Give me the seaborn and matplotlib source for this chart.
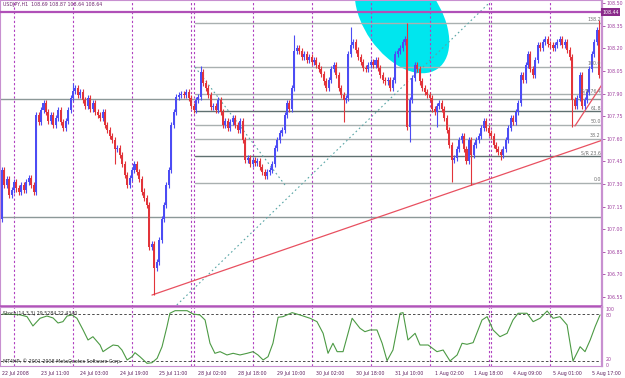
import numpy as np
import pandas as pd
import matplotlib
matplotlib.use("Agg")
import matplotlib.pyplot as plt
from matplotlib.patches import Ellipse
from matplotlib.transforms import IdentityTransform
import seaborn as sns

sns.set_style("white")
plt.rcParams['font.family'] = ['DejaVu Sans']

# ---------------- data ----------------
first_open = 107.07
closes = [
    107.39, 107.29, 107.33, 107.23, 107.26, 107.31, 107.27, 107.25, 107.29, 107.26,
    107.31, 107.34, 107.29, 107.25, 107.76, 107.71, 107.79, 107.84, 107.78, 107.72,
    107.76, 107.69, 107.74, 107.79, 107.71, 107.67, 107.72, 107.79, 107.87, 107.92,
    107.94, 107.89, 107.91, 107.86, 107.82, 107.87, 107.80, 107.84, 107.78, 107.76,
    107.74, 107.78, 107.69, 107.66, 107.62, 107.59, 107.53, 107.54, 107.49, 107.43,
    107.36, 107.29, 107.34, 107.39, 107.43, 107.38, 107.33, 107.25, 107.21, 107.16,
    106.88, 106.90, 106.74, 106.78, 106.93, 107.07, 107.16, 107.29, 107.39, 107.69,
    107.78, 107.88, 107.89, 107.90, 107.89, 107.91, 107.87, 107.82, 107.79, 107.86,
    107.88, 108.04, 107.97, 107.94, 107.89, 107.81, 107.82, 107.79, 107.86, 107.78,
    107.69, 107.72, 107.67, 107.71, 107.74, 107.69, 107.66, 107.72, 107.59, 107.46,
    107.47, 107.43, 107.46, 107.44, 107.45, 107.41, 107.38, 107.35, 107.38, 107.39,
    107.43, 107.54, 107.59, 107.64, 107.66, 107.76, 107.84, 107.80, 107.94, 108.18,
    108.20, 108.18, 108.14, 108.16, 108.12, 108.14, 108.11, 108.12, 108.09, 108.06,
    108.03, 107.98, 107.94, 107.99, 108.06, 108.09, 108.02, 107.94, 107.89, 107.86,
    107.87, 108.16, 108.22, 108.24, 108.19, 108.14, 108.11, 108.07, 108.06, 108.09,
    108.11, 108.09, 108.12, 108.07, 108.02, 107.99, 107.98, 107.99, 107.94, 107.99,
    108.16, 108.18, 108.20, 108.24, 108.26, 107.68, 107.86, 108.00, 108.09, 108.06,
    107.98, 107.94, 107.91, 107.89, 107.87, 107.80, 107.78, 107.82, 107.84, 107.80,
    107.74, 107.66, 107.56, 107.46, 107.47, 107.53, 107.59, 107.62, 107.53, 107.45,
    107.59, 107.49, 107.56, 107.59, 107.62, 107.67, 107.72, 107.67, 107.64, 107.62,
    107.56, 107.53, 107.51, 107.49, 107.53, 107.59, 107.67, 107.74, 107.71, 107.78,
    107.84, 108.02, 107.99, 108.09, 108.16, 108.06, 108.02, 108.12, 108.22, 108.20,
    108.24, 108.26, 108.23, 108.22, 108.20, 108.22, 108.24, 108.26, 108.22, 108.24,
    108.19, 108.14, 107.86, 107.82, 107.87, 108.02, 107.82, 107.86, 107.91, 108.06,
    108.16, 108.24, 108.32, 108.02,
]
wick = 0.02
spike_high = {81: 108.08, 119: 108.29, 142: 108.34, 165: 108.37, 243: 108.39, 29: 107.97}
spike_low = {0: 107.07, 62: 106.56, 60: 106.86, 139: 107.71, 166: 107.58, 177: 107.68,
             183: 107.31, 191: 107.29, 203: 107.46, 232: 107.68, 46: 107.43}

stoch_bar = [0.5, 7.4, 10.3, 12.7, 15.6, 18.4, 20.9, 22.9, 24.9, 26.6, 28.6, 30.6, 33.1,
             35.1, 37.1, 40.0, 41.2, 43.2, 45.3, 47.3, 48.9, 51.0, 53.0, 54.2, 56.2, 59.1,
             61.1, 63.2, 65.2, 67.2, 68.4, 70.5, 75.4, 77.8, 80.6, 82.7, 84.7, 86.7, 88.8,
             91.6, 94.1, 96.9, 99.8, 102.2, 104.2, 106.3, 108.3, 110.3, 112.4, 114.4, 118.1,
             121.3, 125.4, 128.2, 130.7, 132.7, 134.7, 136.4, 138.8, 142.5, 145.7, 147.7,
             149.8, 152.6, 154.7, 156.7, 159.1, 162.0, 163.2, 165.2, 168.1, 170.1, 173.4,
             177.0, 179.5, 182.3, 185.2, 187.2, 189.2, 191.7, 195.3, 197.4, 199.8, 202.6,
             205.5, 207.9, 210.0, 213.6, 216.1, 218.9, 221.8, 224.2, 227.0, 229.9, 232.3,
             235.2, 237.2, 239.3, 241.3, 243.3]
stoch_val = [80, 79, 76.6, 64.7, 74.5, 77.4, 74.9, 68.5, 70.2, 77.4, 78.7, 74.5, 59.6,
             46.8, 51, 40.4, 31.9, 36.2, 40.4, 39.5, 34, 21.3, 25.5, 30.6, 25.5, 17,
             17.8, 23.4, 38.2, 63.8, 80.9, 84.2, 84.2, 80, 78.7, 72.3, 42.6, 29.8, 31.9,
             27.7, 29.8, 27.7, 29.8, 31.9, 27.7, 21.3, 25.5, 42.6, 75.8, 76.6, 81.7,
             78.7, 74.5, 70.2, 55.3, 29.8, 42.6, 31.9, 31.9, 74.5, 61.7, 57.4,
             59.6, 59.6, 42.6, 20.4, 34, 80.9, 81.7, 46.8, 55.3, 40.4, 40.4,
             31.9, 34, 20, 27.7, 42.6, 41.3, 43.4, 72.3, 76.6, 59.6, 51,
             55.3, 72.3, 80.9, 80.9, 70.2, 74.5, 83.8, 74.5, 76.6, 66, 20,
             38.2, 31.9, 46.8, 63.8, 78.7]

tick_labels = ["22 Jul 2008", "23 Jul 11:00", "24 Jul 03:00", "24 Jul 19:00", "25 Jul 11:00",
               "28 Jul 02:00", "28 Jul 18:00", "29 Jul 10:00", "30 Jul 02:00", "30 Jul 18:00",
               "31 Jul 10:00", "1 Aug 02:00", "1 Aug 18:00", "4 Aug 09:00", "5 Aug 01:00",
               "5 Aug 17:00"]
tick_bars = [0, 16, 32, 48, 64, 80, 96, 112, 128, 144, 160, 176, 192, 208, 224, 240]
day_sep_bars = [5, 29, 53, 77, 78, 102, 126, 150, 174, 198, 199, 223]
price_ticks = [108.50, 108.35, 108.20, 108.05, 107.90, 107.75, 107.60, 107.45, 107.30,
               107.15, 107.00, 106.85, 106.70, 106.55]

fib_low, fib_high = 107.306, 108.076
fib_start_bar = 78.6
fib_levels = [138.2, 100.0, 76.4, 61.8, 50.0, 38.2, 23.6, 0.0]
fib_names = ["138.2", "100.0", "S/R 76.4", "61.8", "50.0", "38.2", "S/R 23.6", "0.0"]
fib_dark = [61.8, 23.6]
hlines_full = [107.862, 107.078]
bid_price = 108.44
red_trend1 = ([61.1, 244.1], [106.563, 107.59])
red_trend2 = ([233.1, 244.0], [107.685, 107.957])
teal_trend1 = ([71.2, 198.6], [106.497, 108.507])
teal_trend2 = ([78.6, 115.2], [108.076, 107.293])

# ---------------- figure ----------------
W, H = 625, 378
fig = plt.figure(figsize=(W / 100, H / 100), dpi=100)
PURPLE = '#a040a0'
LPURPLE = '#c890d0'
SEP = '#b040c0'
FS = 3.4

ax = fig.add_axes([0, (H - 307) / H, 602 / W, 307 / H])
ax2 = fig.add_axes([0, (H - 366) / H, 602 / W, 59 / H], sharex=ax)

xlo, xhi = -0.69, 244.1
ax.set_xlim(xlo, xhi)
ax.set_ylim(106.4836, 108.5208)
ax2.set_ylim(13.6, 88.9)

n = len(closes)
idx = np.arange(n)
opens = [first_open] + closes[:-1]
df = pd.DataFrame({"bar": idx, "open": opens, "close": closes})
df["high"] = df[["open", "close"]].max(axis=1) + wick
df["low"] = df[["open", "close"]].min(axis=1) - wick
for k, v in spike_high.items():
    df.loc[k, "high"] = max(df.loc[k, "high"], v)
for k, v in spike_low.items():
    df.loc[k, "low"] = min(df.loc[k, "low"], v)
up = df["close"] >= df["open"]
colors = np.where(up, '#4c4cf4', '#e2343a')

# ellipse (drawn object, in screen pixels)
ell = Ellipse((402, H - 18), 124, 76, angle=-55, facecolor='#00e6ee', edgecolor='none',
              transform=IdentityTransform(), zorder=0.5)
ax.add_patch(ell)

# separators
for b in day_sep_bars:
    for a in (ax, ax2):
        a.axvline(b, color=SEP, lw=0.8, ls=(0, (2, 2)), zorder=1)

# horizontal lines
for p in hlines_full:
    ax.axhline(p, color='#8c9898', lw=1.0, zorder=1)
for lev, name in zip(fib_levels, fib_names):
    p = fib_low + lev / 100 * (fib_high - fib_low)
    c = '#5f7070' if lev in fib_dark else '#a9b0b0'
    ax.plot([fib_start_bar, xhi], [p, p], color=c, lw=1.0, zorder=1)
    ax.text(243.6, p + 0.004, name, fontsize=FS, color='#707070', ha='right', va='bottom', zorder=6)

# trend lines
ax.plot(*teal_trend1, color='#5aa6a6', lw=0.8, ls=(0, (1.5, 2.5)), zorder=2)
ax.plot(*teal_trend2, color='#5aa6a6', lw=0.8, ls=(0, (1.5, 2.5)), zorder=2)
ax.plot(*red_trend1, color='#e85060', lw=0.9, zorder=2)
ax.plot(*red_trend2, color='#e85060', lw=0.9, zorder=2)

# candles
ax.vlines(df["bar"], df["low"], df["high"], colors=colors, lw=0.8, zorder=3)
body_h = (df["close"] - df["open"]).abs().clip(lower=0.004)
body_b = df[["open", "close"]].min(axis=1)
ax.bar(df["bar"], body_h, bottom=body_b, width=0.82, color=colors, linewidth=0, zorder=3)

# bid / border lines
ax.axhline(bid_price, color='#b050b8', lw=1.6, zorder=4)
ax.axhline(106.49, color='#b050b8', lw=1.8, zorder=4)

# price axis
ax.yaxis.tick_right()
ax.set_yticks(price_ticks)
ax.set_yticklabels([f"{v:.2f}" for v in price_ticks])
ax.tick_params(axis='y', length=2, width=0.6, color=PURPLE, labelsize=FS, labelcolor=PURPLE, pad=1.5)
ax.tick_params(axis='x', bottom=False, labelbottom=False)
ax.text(1.0, bid_price, f"{bid_price:.2f}", transform=ax.get_yaxis_transform(),
        fontsize=FS, color='white', ha='left', va='center', zorder=7, clip_on=False,
        bbox=dict(boxstyle='square,pad=0.25', fc='#8a2a8a', ec='none'))
ax.text(0.005, 0.992, "USDJPY,H1  108.69 108.87 108.64 108.64", transform=ax.transAxes,
        fontsize=FS, color='#702870', ha='left', va='top', zorder=7)

for a in (ax, ax2):
    for s in a.spines.values():
        s.set_color(LPURPLE)
        s.set_linewidth(0.8)
    a.spines['right'].set_linewidth(1.6)
    a.grid(False)
    a.set_facecolor('white')

# indicator
sns.lineplot(x=stoch_bar, y=stoch_val, ax=ax2, color='#4c9a44', lw=0.8, zorder=3)
for lv in (80, 20):
    ax2.axhline(lv, color='#303030', lw=0.6, ls=(0, (3, 2.5)), zorder=2)
ax2.set_ylabel("")
ax2.yaxis.tick_right()
ax2.set_yticks([])
for txt, v, va in (("100", 82.0, 'bottom'), ("80", 81.0, 'top'),
                   ("20", 19.0, 'bottom'), ("0", 18.0, 'top')):
    ax2.text(1.006, v, txt, transform=ax2.get_yaxis_transform(), fontsize=FS,
             color=PURPLE, ha='left', va=va, clip_on=False)
ax2.text(0.005, 80, "Stoch(14,3,3) 29.5284 22.4340", transform=ax2.get_yaxis_transform(),
         fontsize=FS, color='#303030', ha='left', va='center', zorder=5)
ax2.text(0.005, 20, "MT4HP, © 2001-2008 MetaQuotes Software Corp.",
         transform=ax2.get_yaxis_transform(), fontsize=FS, color='#303030',
         ha='left', va='center', zorder=5)

ax2.set_xticks(tick_bars)
ax2.set_xticklabels(tick_labels)
ax2.tick_params(axis='x', length=2, width=0.6, color=PURPLE, labelsize=FS,
                labelcolor='#602060', pad=1.5)
for lab in ax2.get_xticklabels():
    lab.set_ha('left')
ax2.set_xlim(xlo, xhi)

fig.savefig("out.png", dpi=100)
